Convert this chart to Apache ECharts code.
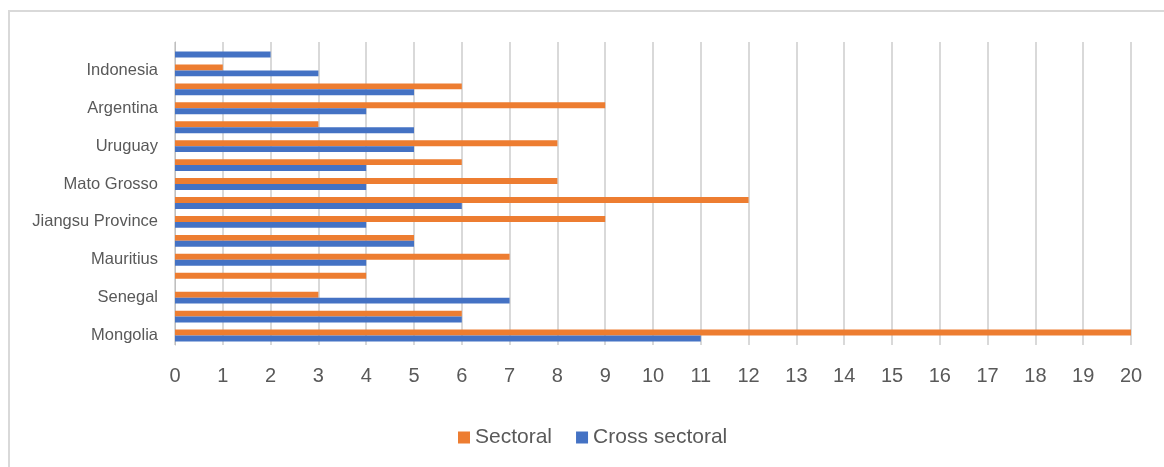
<!DOCTYPE html>
<html>
<head>
<meta charset="utf-8">
<script src="https://cdn.jsdelivr.net/npm/echarts@6/dist/echarts.min.js"></script>
<style>
  html, body { margin: 0; padding: 0; background: #fff; }
  #chart { width: 1164px; height: 467px; }
</style>
</head>
<body>
<div id="chart"></div>
<script>
// categories bottom -> top, every other one is unlabeled in the source
const categories = ['Mongolia', '', 'Senegal', '', 'Mauritius', '', 'Jiangsu Province', '',
  'Mato Grosso', '', 'Uruguay', '', 'Argentina', '', 'Indonesia', '']
const sectoral = [20, 6, 3, 4, 7, 5, 9, 12, 8, 6, 8, 3, 9, 6, 1, 0]
const crossSectoral = [11, 6, 7, 0, 4, 5, 4, 6, 4, 4, 5, 5, 4, 5, 3, 2]
const xTicks = { min: 0, max: 20, interval: 1 }

const chart = echarts.init(document.getElementById('chart'))

const option = {
  animation: false,
  textStyle: { fontFamily: 'Liberation Sans' },
  color: ['#ED7D31', '#4472C4'],
  graphic: [{
    type: 'rect',
    shape: { x: 9, y: 11, width: 1200, height: 500 },
    style: { fill: 'none', stroke: '#d9d9d9', lineWidth: 2 }
  }],
  legend: {
    data: ['Sectoral', 'Cross sectoral'],
    left: 453,
    top: 422,
    itemWidth: 12,
    itemHeight: 12,
    itemGap: 24,
    icon: 'rect',
    textStyle: { color: '#595959', fontSize: 21 }
  },
  grid: {
    left: 175,
    right: 33,
    top: 42,
    bottom: 122
  },
  xAxis: {
    type: 'value',
    min: xTicks.min,
    max: xTicks.max,
    interval: xTicks.interval,
    axisLine: { show: false },
    axisTick: { show: false },
    axisLabel: { color: '#595959', fontSize: 20, margin: 21 },
    splitLine: { lineStyle: { color: '#d9d9d9', width: 2 } }
  },
  yAxis: {
    type: 'category',
    data: categories,
    axisLine: { lineStyle: { color: '#bfbfbf', width: 1 } },
    axisTick: { show: false },
    axisLabel: { interval: 0, color: '#595959', fontSize: 16.5, margin: 17 }
  },
  series: [{
    name: 'Sectoral',
    type: 'bar',
    data: sectoral,
    barGap: '0%',
    barCategoryGap: '37%'
  }, {
    name: 'Cross sectoral',
    type: 'bar',
    data: crossSectoral,
    barGap: '0%',
    barCategoryGap: '37%'
  }]
}
chart.setOption(option)
</script>
</body>
</html>
